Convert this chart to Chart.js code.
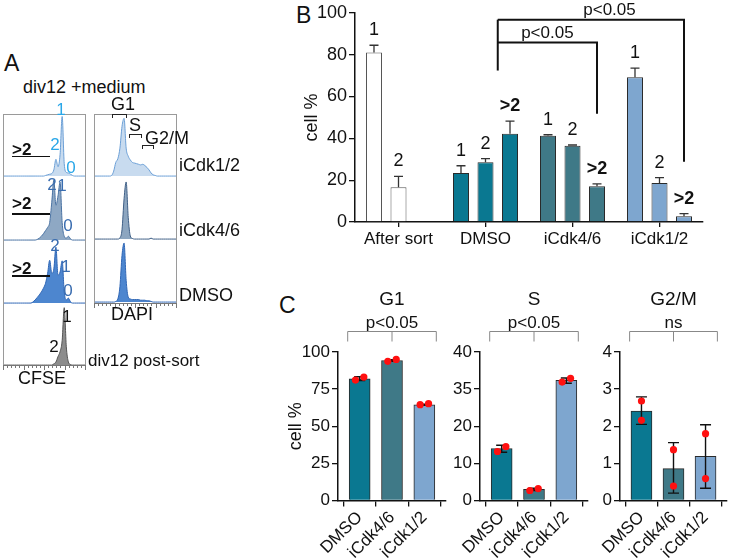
<!DOCTYPE html>
<html>
<head>
<meta charset="utf-8">
<script src="https://cdn.jsdelivr.net/npm/chart.js@4.4.1/dist/chart.umd.min.js"></script>
<style>
  body { margin: 0; background: #fff; font-family: 'Liberation Sans', Arial, sans-serif; }
  #fig { position: relative; width: 731px; height: 560px; overflow: hidden; }
  canvas { position: absolute; }
  .t { position: absolute; white-space: nowrap; line-height: 1; color: #111; }
  .box { position: absolute; border: 1px solid #9a9a9a; border-bottom: none; box-sizing: border-box; }
  .ln { position: absolute; }
</style>
</head>
<body>
<div id="fig"></div>
<script>
// ---------- data ----------
// Panel A: histogram bin heights (% of row height), 40 bins per row
const cfseICdk12 = [0,0,0,0,0,0,0,0,0,0, 0,0,0,0,0,0,0,0,0,0, 1,2,3,4,10,27,15,35,96,20, 6,5,3,1,0,0,0,0,0,0];
const cfseICdk46 = [0,0,0,0,0,0,0,0,0,0, 0,0,0,0,0,0,1,3,6,10, 15,20,28,60,95,55,70,92,28,6, 3,6,2,0,0,0,0,0,0,0];
const cfseDMSO   = [0,0,0,0,0,0,0,0,0,0, 0,0,0,0,2,5,9,13,18,24, 32,48,69,48,55,90,45,50,68,18, 5,8,2,0,0,0,0,0,0,0];
const cfsePost   = [0,0,0,0,0,0,0,0,0,0, 0,0,0,0,0,0,0,0,0,0, 0,0,0,0,2,5,14,22,40,94, 30,5,1,0,0,0,0,0,0,0];
const dapiICdk12 = [0,0,0,0,0,0,0,0,1,8, 22,28,45,80,93,45,32,26,22,21, 20,19,18,19,17,14,10,5,2,1, 0,0,0,0,0,0,0,0,0,0];
const dapiICdk46 = [0,0,0,0,0,0,0,0,0,0, 0,0,2,15,65,92,35,5,1,0, 0,0,0,0,0,0,0,1.5,0,0, 0,0,0,0,0,0,0,0,0,0];
const dapiDMSO   = [0,0,0,0,0,0,0,0,0,0, 1,5,25,75,95,35,8,5,4,4, 4,4,3,3,3,2,2,1,0,0, 0,0,0,0,0,0,0,0,0,0];

// Panel B: % of cells per division number
const groups = ['After sort', 'DMSO', 'iCdk4/6', 'iCdk1/2'];
const gen1 = [81.0, 23.4, 41.2, 69.2];
const gen1Err = [3.5, 3.5, 0.5, 4.4];
const gen2 = [16.6, 28.6, 36.5, 18.7];
const gen2Err = [5.2, 1.7, 0.3, 2.5];
const gen3 = [null, 42.2, 17.1, 2.7];
const gen3Err = [null, 6.0, 1.1, 1.3];
const genLabels = ['1', '2', '>2'];
const bTicks = [0, 20, 40, 60, 80, 100];

// Panel C: cell cycle phases
const cCats = ['DMSO', 'iCdk4/6', 'iCdk1/2'];
const g1Mean = [82.0, 94.3, 64.5];
const g1Lo = [80.8, 93.8, 64.1];
const g1Hi = [83.3, 94.8, 64.9];
const g1Reps = [[81.1, 83.1], [93.7, 95.0], [64.5, 65.2]];
const sMean = [14.0, 3.0, 36.2];
const sLo = [13.0, 2.7, 35.8];
const sHi = [14.9, 3.3, 36.5];
const sReps = [[13.2, 14.5], [2.7, 3.2], [35.95, 36.45]];
const sTickLabels = ['0', '10', '20', '35', '40'];
const g2mMean = [2.41, 0.86, 1.19];
const g2mLo = [2.05, 0.20, 0.33];
const g2mHi = [2.79, 1.56, 2.04];
const g2mReps = [[2.68, 2.16], [1.37, 0.39], [1.80, 0.59]];

// ---------- styling ----------
const FONT = "'Liberation Sans', Arial, sans-serif";
Chart.defaults.font.family = FONT;
Chart.defaults.color = '#111';
const teal = '#0a7891', slate = '#3f7987', sky = '#7ea6cf';
const groupColors = ['#ffffff', teal, slate, sky];
const groupBorders = ['#555555', '#2a2a2a', '#2a2a2a', '#2a2a2a'];

const fig = document.getElementById('fig');
function txt(s, x, y, size, opt = {}) {
  const el = document.createElement('div');
  el.className = 't';
  el.textContent = s;
  el.style.fontSize = size + 'px';
  el.style.left = x + 'px';
  el.style.top = y + 'px';
  el.style.transform = opt.left ? 'translate(0,-50%)' : 'translate(-50%,-50%)';
  if (opt.bold) el.style.fontWeight = 'bold';
  if (opt.color) el.style.color = opt.color;
  fig.appendChild(el);
}
function line(x, y, w, h, color) {
  const el = document.createElement('div');
  el.className = 'ln';
  Object.assign(el.style, { left: x + 'px', top: y + 'px', width: w + 'px', height: h + 'px', background: color });
  fig.appendChild(el);
}
function canvas(x, y, w, h) {
  const c = document.createElement('canvas');
  c.width = w; c.height = h;
  Object.assign(c.style, { left: x + 'px', top: y + 'px', width: w + 'px', height: h + 'px' });
  fig.appendChild(c);
  return c;
}

// ---------- Panel A ----------
txt('A', 4, 63, 23, { left: true });
txt('div12 +medium', 23, 87, 18, { left: true });

function hist(x, y, w, h, data, fill, stroke) {
  new Chart(canvas(x, y, w, h), {
    type: 'line',
    data: {
      labels: data.map((_, i) => i),
      datasets: [{ data, fill: 'origin', backgroundColor: fill, borderColor: stroke, borderWidth: 1,
        pointRadius: 0, cubicInterpolationMode: 'monotone' }]
    },
    options: {
      responsive: false, animation: false, events: [],
      layout: { padding: 0 },
      plugins: { legend: { display: false }, tooltip: { enabled: false } },
      scales: { x: { display: false }, y: { display: false, min: -1.5, max: 100 } }
    }
  });
}

// CFSE column
const cfseRows = [
  [114, 63, cfseICdk12, '#c8dbef', '#6b9fd6'],
  [177, 64, cfseICdk46, '#8ea8c4', '#4b73a3'],
  [241, 63, cfseDMSO, '#4d86cf', '#2f66b5'],
  [304, 62, cfsePost, '#8c8c8c', '#555555']
];
const box1 = document.createElement('div');
box1.className = 'box';
Object.assign(box1.style, { left: '3px', top: '114px', width: '83px', height: '252px' });
fig.appendChild(box1);
cfseRows.forEach(r => hist(4, r[0], 81, r[1], r[2], r[3], r[4]));
line(3, 365, 83, 1, '#777');
for (let i = 0; i <= 20; i++) line(3 + i * 4.1, 366, 1, i % 5 === 0 ? 4 : 2, '#777');

// DAPI column
const dapiRows = [
  [114, 63, dapiICdk12, '#c8dbef', '#6b9fd6'],
  [177, 63, dapiICdk46, '#8da6c0', '#3f5f86'],
  [240, 63, dapiDMSO, '#4d86cf', '#2f66b5']
];
const box2 = document.createElement('div');
box2.className = 'box';
Object.assign(box2.style, { left: '94px', top: '114px', width: '83px', height: '190px' });
fig.appendChild(box2);
dapiRows.forEach(r => hist(95, r[0], 81, r[1], r[2], r[3], r[4]));
line(94, 303, 83, 1, '#777');
for (let i = 0; i <= 20; i++) line(94 + i * 4.1, 304, 1, i % 5 === 0 ? 4 : 2, '#777');

// phase brackets on DAPI
function bracketDiv(x, y, w) {
  const el = document.createElement('div');
  Object.assign(el.style, { position: 'absolute', left: x + 'px', top: y + 'px', width: w + 'px', height: '4px',
    border: '1.3px solid #222', borderBottom: 'none', boxSizing: 'border-box' });
  fig.appendChild(el);
}
bracketDiv(112, 114, 15); txt('G1', 123, 104, 18);
bracketDiv(129, 134, 13); txt('S', 135, 125, 18);
bracketDiv(142, 145, 12); txt('G2/M', 145, 138, 18, { left: true });

// row labels
txt('iCdk1/2', 179, 165, 18, { left: true });
txt('iCdk4/6', 179, 230, 18, { left: true });
txt('DMSO', 179, 295, 18, { left: true });
txt('DAPI', 132, 314, 18);
txt('div12 post-sort', 88, 360, 17, { left: true });
txt('CFSE', 42, 378, 18);

// generation labels on CFSE
const cyan = '#2aa7e8', dblue = '#3a6db0';
txt('1', 61, 109, 17, { color: cyan });
txt('2', 55, 144, 17, { color: cyan });
txt('0', 71, 167, 17, { color: cyan });
txt('2', 52, 184, 17, { color: dblue });
txt('1', 62, 185, 17, { color: dblue });
txt('0', 68, 225, 17, { color: dblue });
txt('2', 55, 245, 17, { color: dblue });
txt('1', 66, 266, 17, { color: dblue });
txt('0', 68, 290, 17, { color: dblue });
txt('1', 67, 316, 17);
txt('2', 54, 346, 17);
[[149, 155.5], [203, 213], [268, 275]].forEach(([ty, ly]) => {
  txt('>2', 12, ty, 17, { left: true, bold: true });
  line(12, ly, 38, 1.6, '#111');
});

// ---------- Panel B ----------
txt('B', 296, 15, 23, { left: true });

const bExtras = {
  id: 'bExtras',
  afterDatasetsDraw(chart) {
    const { ctx, scales: { y } } = chart;
    ctx.save();
    chart.data.datasets.forEach((ds, di) => {
      chart.getDatasetMeta(di).data.forEach((bar, i) => {
        const v = ds.data[i];
        if (v == null) return;
        const top = y.getPixelForValue(v + ds.err[i]);
        ctx.strokeStyle = '#333'; ctx.lineWidth = 1.3;
        ctx.beginPath();
        ctx.moveTo(bar.x, bar.y); ctx.lineTo(bar.x, top);
        ctx.moveTo(bar.x - 4.5, top); ctx.lineTo(bar.x + 4.5, top);
        ctx.stroke();
        ctx.fillStyle = '#111';
        ctx.font = (di === 2 ? 'bold ' : '') + '18px ' + FONT;
        ctx.textAlign = 'center'; ctx.textBaseline = 'middle';
        ctx.fillText(genLabels[di], bar.x, top - 15);
      });
    });
    // significance brackets from DMSO >2
    const m1 = chart.getDatasetMeta(1).data, m2 = chart.getDatasetMeta(2).data;
    const xl = (m1[1].x + m2[1].x) / 2;
    ctx.strokeStyle = '#111'; ctx.lineWidth = 2;
    ctx.beginPath();
    ctx.moveTo(xl, y.getPixelForValue(72.4)); ctx.lineTo(xl, y.getPixelForValue(96.7));
    ctx.stroke();
    [[2, 85.8, 51.8, 0.5], [3, 96.7, 28.8, 0.6]].forEach(([g, hy, drop, tpos]) => {
      const xr = m2[g].x, py = y.getPixelForValue(hy);
      ctx.beginPath();
      ctx.moveTo(xl, py); ctx.lineTo(xr, py); ctx.lineTo(xr, y.getPixelForValue(drop));
      ctx.stroke();
      ctx.font = '17px ' + FONT; ctx.textBaseline = 'bottom'; ctx.textAlign = 'center';
      ctx.fillText('p<0.05', xl + (xr - xl) * tpos, py - 1);
    });
    ctx.restore();
  }
};

const bDs = (data, err) => ({
  data, err,
  backgroundColor: groupColors, borderColor: groupBorders, borderWidth: 1,
  categoryPercentage: 0.845, barPercentage: 0.653
});

new Chart(canvas(290, 0, 441, 252), {
  type: 'bar',
  data: { labels: groups, datasets: [bDs(gen1, gen1Err), bDs(gen2, gen2Err), bDs(gen3, gen3Err)] },
  options: {
    responsive: false, animation: false, events: [],
    layout: { padding: { top: 11, right: 28, left: 0, bottom: 0 } },
    plugins: { legend: { display: false }, tooltip: { enabled: false } },
    scales: {
      x: {
        grid: { display: true, drawOnChartArea: false, offset: false, tickLength: 5, color: '#111', lineWidth: 1.3 },
        border: { color: '#111', width: 1.5 },
        ticks: { font: { size: 17 }, padding: 2, color: '#111' },
        afterFit(s) { s.height = 30; }
      },
      y: {
        min: 0, max: 100,
        afterBuildTicks(s) { s.ticks = bTicks.map(v => ({ value: v })); },
        grid: { display: true, drawOnChartArea: false, tickLength: 6, color: '#111', lineWidth: 1.3 },
        border: { color: '#111', width: 1.5 },
        ticks: { font: { size: 18 }, padding: 2, color: '#111' },
        title: { display: true, text: 'cell %', font: { size: 18 }, padding: { top: 11 }, color: '#111' },
        afterFit(s) { s.width = 65; }
      }
    }
  },
  plugins: [bExtras]
});

// ---------- Panel C ----------
txt('C', 279, 305, 23, { left: true });

function makeC(x, w, yAxisW, padRight, title, pText, mean, lo, hi, reps, jitter, yOpts, tf, yTitle) {
  const extras = {
    id: 'cExtras',
    afterDatasetDraw(chart, args) {
      if (args.index !== 0) return;
      const { ctx, scales: { x: xs, y } } = chart;
      ctx.save();
      ctx.strokeStyle = '#111'; ctx.lineWidth = 1.4;
      mean.forEach((m, i) => {
        const px = xs.getPixelForValue(i), cw = 5.5;
        const yl = y.getPixelForValue(tf(lo[i])), yh = y.getPixelForValue(tf(hi[i]));
        ctx.beginPath();
        ctx.moveTo(px, yl); ctx.lineTo(px, yh);
        ctx.moveTo(px - cw, yl); ctx.lineTo(px + cw, yl);
        ctx.moveTo(px - cw, yh); ctx.lineTo(px + cw, yh);
        ctx.stroke();
      });
      ctx.restore();
    },
    afterDraw(chart) {
      const { ctx, chartArea: a, scales: { x: xs } } = chart;
      ctx.save();
      const x0 = xs.getPixelForValue(-0.37), x1 = xs.getPixelForValue(2.37), xm = xs.getPixelForValue(1);
      const by = a.top - 20.5, bt = a.top - 10.5;
      ctx.strokeStyle = '#888'; ctx.lineWidth = 1;
      ctx.beginPath();
      ctx.moveTo(x0, bt); ctx.lineTo(x0, by); ctx.lineTo(x1, by); ctx.lineTo(x1, bt);
      ctx.moveTo(xm, by); ctx.lineTo(xm, bt);
      ctx.stroke();
      ctx.fillStyle = '#111'; ctx.textAlign = 'center'; ctx.textBaseline = 'middle';
      ctx.font = '17px ' + FONT;
      ctx.fillText(pText, xm, a.top - 29);
      ctx.font = '19px ' + FONT;
      ctx.fillText(title, xm, a.top - 52);
      ctx.restore();
    }
  };
  const dots = [];
  reps.forEach((r, i) => r.forEach((v, k) => dots.push({ x: i + (k === 0 ? -jitter : jitter), y: tf(v) })));
  new Chart(canvas(x, 285, w, 275), {
    type: 'bar',
    data: {
      datasets: [
        { type: 'bar', order: 1, data: mean.map((m, i) => ({ x: i, y: tf(m) })),
          backgroundColor: [teal, slate, sky], borderColor: '#2a2a2a', borderWidth: 1, barThickness: 21 },
        { type: 'scatter', order: 0, data: dots, backgroundColor: '#ff1010', borderWidth: 0, pointRadius: 3.6 }
      ]
    },
    options: {
      responsive: false, animation: false, events: [],
      layout: { padding: { top: 67, right: padRight, left: 0, bottom: 0 } },
      plugins: { legend: { display: false }, tooltip: { enabled: false } },
      scales: {
        x: {
          type: 'linear', min: -0.67, max: 2.67, offset: false,
          afterBuildTicks(s) { s.ticks = cCats.map((_, i) => ({ value: i })); },
          grid: { display: true, drawOnChartArea: false, tickLength: 6, color: '#111', lineWidth: 1.3 },
          border: { color: '#111', width: 1.5 },
          ticks: { callback: v => cCats[v], minRotation: 45, maxRotation: 45, font: { size: 17 }, padding: 1, color: '#111' },
          afterFit(s) { s.height = 59.5; }
        },
        y: Object.assign({
          grid: { display: true, drawOnChartArea: false, tickLength: 6, color: '#111', lineWidth: 1.3 },
          border: { color: '#111', width: 1.5 },
          title: { display: yTitle, text: 'cell %', font: { size: 18 }, padding: { top: 9.5 }, color: '#111' },
          afterFit(s) { s.width = yAxisW; }
        }, yOpts)
      }
    },
    plugins: [extras]
  });
}

const same = v => v;
const brokenS = v => (v <= 20 ? v / 10 : 3 + (v - 35) / 5);

makeC(276, 180, 62, 10, 'G1', 'p<0.05', g1Mean, g1Lo, g1Hi, g1Reps, 0.13,
  { min: 0, max: 100, ticks: { stepSize: 25, font: { size: 17 }, padding: 2, color: '#111' } }, same, true);
makeC(436, 162, 44, 10, 'S', 'p<0.05', sMean, sLo, sHi, sReps, 0.13,
  { min: 0, max: 4, ticks: { stepSize: 1, callback: v => sTickLabels[v], font: { size: 17 }, padding: 2, color: '#111' } }, brokenS, false);
makeC(576, 155, 44, 3, 'G2/M', 'ns', g2mMean, g2mLo, g2mHi, g2mReps, 0,
  { min: 0, max: 4, ticks: { stepSize: 1, font: { size: 17 }, padding: 2, color: '#111' } }, same, false);
</script>
</body>
</html>
